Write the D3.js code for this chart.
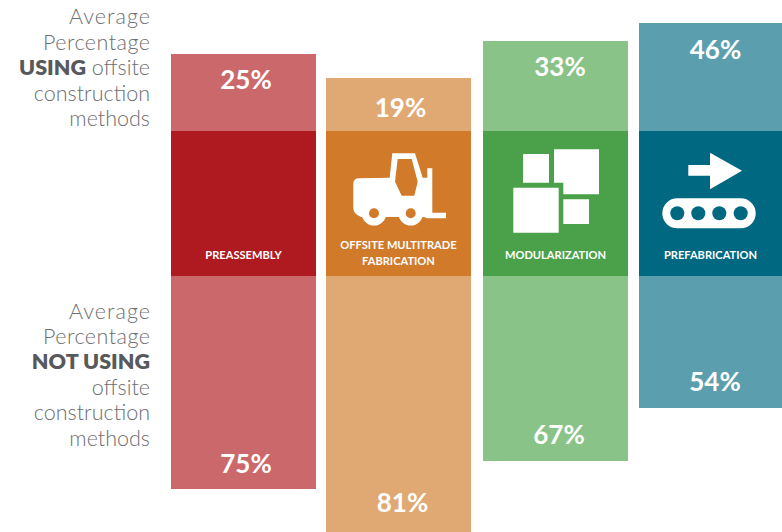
<!DOCTYPE html>
<html><head><meta charset="utf-8">
<script src="https://d3js.org/d3.v7.min.js"></script>
<style>html,body{margin:0;padding:0;background:#fff;overflow:hidden}svg{display:block}</style>
</head><body><svg id="c" width="782" height="532"></svg>
<script>
const categories = ["PREASSEMBLY","OFFSITE MULTITRADE|FABRICATION","MODULARIZATION","PREFABRICATION"];
const usingPct = [25,19,33,46];
const notUsingPct = [75,81,67,54];
const darkColors = ["#AE1A20","#D07A2A","#4AA14A","#006880"];
const lightColors = ["#CB686B","#E0A973","#8AC387","#5B9FAE"];
const usingNote = [["Average"],["Percentage"],[["USING",1],[" offsite",0]],["construction"],["methods"]];
const notUsingNote = [["Average"],["Percentage"],[["NOT USING",1]],["offsite"],["construction"],["methods"]];

const font = "Lato, 'Open Sans', sans-serif";
const svg = d3.select("#c");
const bandTop = 131, bandBottom = 276;

// The source graphic is not drawn to a true proportional scale: calibrated piecewise scale, value -> bar length
const len = d3.scaleLinear()
  .domain([0,19,25,33,46,54,67,75,81])
  .range([0,53,77,90,108,132,185,213,258]);

const xLeft = [171,326,483,639];
const x = d3.scaleOrdinal().domain(categories).range(xLeft);
const bw = d3.scaleOrdinal().domain(categories).range([145,145,145,143]);

// label placement nudges (layout only)
const topDx = [2.5,2,4.5,5], topDy = [-1,3,-1,0];
const botDx = [2.5,4,3.5,4.5], botDy = [0,-4,-1,-1];

const g = svg.selectAll("g.col").data(categories).join("g").attr("class","col");
g.append("rect").attr("x",d=>x(d)).attr("width",d=>bw(d))
  .attr("y",(d,i)=>bandTop-len(usingPct[i])).attr("height",(d,i)=>len(usingPct[i]))
  .attr("fill",(d,i)=>lightColors[i]);
g.append("rect").attr("x",d=>x(d)).attr("width",d=>bw(d))
  .attr("y",bandBottom).attr("height",(d,i)=>len(notUsingPct[i]))
  .attr("fill",(d,i)=>lightColors[i]);
g.append("rect").attr("x",d=>x(d)).attr("width",d=>bw(d))
  .attr("y",bandTop).attr("height",bandBottom-bandTop)
  .attr("fill",(d,i)=>darkColors[i]);

const pctStyle = s => s.attr("text-anchor","middle").attr("dominant-baseline","central")
  .attr("font-family",font).attr("font-weight",700).attr("font-size",26).attr("fill","#fff");
g.append("text").text((d,i)=>usingPct[i]+"%")
  .attr("x",(d,i)=>x(d)+bw(d)/2+topDx[i]).attr("y",(d,i)=>bandTop-len(usingPct[i])+26+topDy[i]).call(pctStyle);
g.append("text").text((d,i)=>notUsingPct[i]+"%")
  .attr("x",(d,i)=>x(d)+bw(d)/2+botDx[i]).attr("y",(d,i)=>Math.min(532,bandBottom+len(notUsingPct[i]))-26+botDy[i]).call(pctStyle);

g.each(function(d){
  const lines = d.split("|");
  const t = d3.select(this).append("text").attr("text-anchor","middle")
    .attr("font-family",font).attr("font-weight",700).attr("font-size",11.1).attr("fill","#fff");
  lines.forEach((l,j)=>t.append("tspan").attr("x",x(d)+bw(d)/2)
    .attr("y",(lines.length===1?259:249)+j*16).text(l));
});

// Left annotations
const lineWidths = new Map([["Average",81],["Percentage",107]]);
function note(lines, ys){
  lines.forEach((ln,i)=>{
    const t = svg.append("text").attr("x",150).attr("y",ys[i]).attr("text-anchor","end")
      .attr("dominant-baseline","central").attr("font-family",font).attr("font-size",21.5)
      .attr("font-weight",300).attr("fill","#6D6E71").attr("xml:space","preserve");
    if(lineWidths.has(ln[0])) t.attr("textLength",lineWidths.get(ln[0])).attr("lengthAdjust","spacing");
    ln.forEach(p=>{
      if(typeof p==="string") t.append("tspan").text(p);
      else t.append("tspan").text(p[0]).attr("font-weight",p[1]?800:300).attr("fill",p[1]?"#58595B":"#6D6E71");
    });
  });
}
note(usingNote,[16,42,67,93,118]);
note(notUsingNote,[311,336,361,387,412,438]);

// Icons
const icons = svg.append("g").attr("fill","#fff");
// forklift
icons.append("path").attr("fill-rule","evenodd").attr("d",
 "M392.3 153.3H415L422.7 177.7H427.3V168.3H432.3V212.7H446V218.3H427L424 217H361Q353.3 214 353.3 208V184Q353.3 178.3 359 178.3L389.7 177.7Z"+
 "M397.7 159H411.7L417.7 181.7L414.3 195.7H401.7L395 181.7Z");
[374,410.7].forEach(cx=>{
  icons.append("circle").attr("cx",cx).attr("cy",213.3).attr("r",12.3);
  icons.append("circle").attr("cx",cx).attr("cy",213.3).attr("r",5).attr("fill",darkColors[1]);
});
// squares
icons.append("path").attr("d",
 "M523 154H549V182.7H523Z"+
 "M554 149.3H599V194.3H563.3V182.7H554Z"+
 "M513.3 187.7H558.7V232.7H513.3Z"+
 "M563.3 199.3H589V224H563.3Z");
// conveyor
icons.append("path").attr("d","M688.3 165H710V152.7L742 170.7L710 189.3V175.7H688.3Z");
icons.append("rect").attr("x",662.3).attr("y",198.3).attr("width",93.4).attr("height",30).attr("rx",15);
[677.3,698.3,719.3,740.7].forEach(cx=>icons.append("circle").attr("cx",cx).attr("cy",213.3).attr("r",7).attr("fill",darkColors[3]));
</script></body></html>
